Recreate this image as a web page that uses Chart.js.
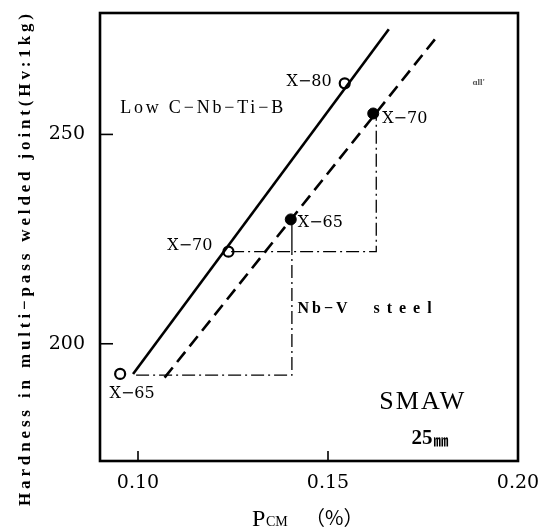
<!DOCTYPE html>
<html>
<head>
<meta charset="utf-8">
<script src="https://cdn.jsdelivr.net/npm/chart.js@4/dist/chart.umd.min.js"></script>
<style>
  html, body { margin: 0; padding: 0; background: #fff; }
  #wrap { width: 551px; height: 530px; position: relative; }
</style>
</head>
<body>
<div id="wrap"><canvas id="chart"></canvas></div>
<script>
// tick labels
const xTicks = [0.10, 0.15, 0.20];
const yTicks = [200, 250];

// Low C-Nb-Ti-B steel (open circles) and its fitted line
const openX = [0.0953, 0.1238, 0.1544];
const openY = [192.8, 222.0, 262.2];
const openNames = ["X\u221265", "X\u221270", "X\u221280"];
const solidLineX = [0.0987, 0.1660];
const solidLineY = [192.8, 275.1];

// Nb-V steel (filled circles) and its fitted line
const filledX = [0.1402, 0.1619];
const filledY = [229.7, 255.0];
const filledNames = ["X\u221265", "X\u221270"];
const dashedLineX = [0.1070, 0.1790];
const dashedLineY = [191.9, 273.7];

// dash-dot guide lines (same hardness, shifted P_CM)
const guideAX = [0.0995, 0.1405, 0.1405];
const guideAY = [192.5, 192.5, 222.0];
const guideBX = [0.1245, 0.1627, 0.1627];
const guideBY = [222.0, 222.0, 255.0];
const guideCX = [0.1405, 0.1405];
const guideCY = [222.0, 229.7];

const pts = (xs, ys) => xs.map((x, i) => ({ x: x, y: ys[i] }));

const SERIF = "'Liberation Serif', 'DejaVu Serif', serif";
const NUMF = "'DejaVu Serif', serif";

// draw text stretched with letter spacing to a given width
const drawFit = (ctx, text, x, y, width, font, align) => {
    ctx.font = font;
    ctx.letterSpacing = "0px";
    const w = ctx.measureText(text).width;
    const sp = Math.max(0, (width - w) / Math.max(1, text.length - 1));
    ctx.letterSpacing = sp + "px";
    let left = x;
    if (align === "center") left = x - width / 2;
    if (align === "right") left = x - width;
    ctx.textAlign = "left";
    ctx.fillText(text, left, y);
    ctx.letterSpacing = "0px";
};

const framePlugin = {
    id: "frame",
    beforeDatasetsDraw(chart) {
        const { ctx, chartArea: a, scales } = chart;
        ctx.save();
        ctx.strokeStyle = "#000";
        ctx.lineWidth = 2.6;
        ctx.strokeRect(a.left, a.top, a.right - a.left, a.bottom - a.top);
        ctx.lineWidth = 1.6;
        // inward tick marks
        [0.10, 0.15].forEach((v) => {
            const px = scales.x.getPixelForValue(v);
            ctx.beginPath();
            ctx.moveTo(px, a.bottom);
            ctx.lineTo(px, a.bottom - 10);
            ctx.stroke();
        });
        yTicks.forEach((v) => {
            const py = scales.y.getPixelForValue(v);
            ctx.beginPath();
            ctx.moveTo(a.left, py);
            ctx.lineTo(a.left + 13, py);
            ctx.stroke();
        });
        ctx.restore();
    },
};

const textPlugin = {
    id: "texts",
    afterDatasetsDraw(chart) {
        const { ctx, scales } = chart;
        const X = (v) => scales.x.getPixelForValue(v);
        const Y = (v) => scales.y.getPixelForValue(v);
        ctx.save();
        ctx.fillStyle = "#000";
        ctx.textBaseline = "middle";

        // point labels
        ctx.font = "16px " + NUMF;
        ctx.textAlign = "right";
        ctx.fillText(openNames[2], X(openX[2]) - 13, Y(openY[2]) - 1);
        ctx.fillText(openNames[1], X(openX[1]) - 16, Y(openY[1]) - 6);
        ctx.textAlign = "center";
        ctx.fillText(openNames[0], X(openX[0]) + 12, Y(openY[0]) + 20);
        ctx.textAlign = "left";
        ctx.fillText(filledNames[1], X(filledX[1]) + 9, Y(filledY[1]) + 5);
        ctx.fillText(filledNames[0], X(filledX[0]) + 7, Y(filledY[0]) + 3);

        // annotations
        drawFit(ctx, "Low C\u2212Nb\u2212Ti\u2212B", X(0.0953), Y(256.2), 163, "18px " + SERIF, "left");
        drawFit(ctx, "Nb\u2212V", X(0.1420), Y(208.3), 50, "bold 16px " + SERIF, "left");
        drawFit(ctx, "steel", X(0.1620), Y(208.3), 58, "bold 16px " + SERIF, "left");
        drawFit(ctx, "SMAW", X(0.1635), Y(186.0), 85, "26px " + SERIF, "left");
        ctx.font = "bold 21px " + SERIF;
        ctx.textAlign = "left";
        ctx.fillText("25", X(0.1720), Y(177.3));
        ctx.font = "bold 15px 'Noto Sans CJK JP', sans-serif";
        ctx.fillText("\u339C", X(0.1720) + 22, Y(177.3) + 1);
        ctx.fillStyle = "#555";
        ctx.font = "bold 9px " + SERIF;
        ctx.fillText("\u0251ll'", X(0.1880), Y(262.4));
        ctx.fillStyle = "#000";

        // x axis title
        ctx.textBaseline = "alphabetic";
        ctx.font = "24px " + SERIF;
        ctx.fillText("P", 252, 526);
        ctx.font = "14px " + SERIF;
        ctx.fillText("CM", 266, 526);
        ctx.font = "20px 'Noto Sans CJK JP', sans-serif";
        ctx.fillText("\uFF08%\uFF09", 305, 525);

        // y axis title
        ctx.translate(26, 260);
        ctx.rotate(-Math.PI / 2);
        ctx.textBaseline = "middle";
        drawFit(ctx, "Hardness in multi\u2212pass welded joint(Hv:1kg)", 0, 0, 492, "bold 17px " + SERIF, "center");
        ctx.restore();
    },
};

const guide = (data) => ({
    data: data,
    showLine: true,
    borderColor: "#000",
    borderWidth: 1.3,
    borderDash: [13, 4, 2, 4],
    pointRadius: 0,
    fill: false,
});

new Chart("chart", {
    type: "scatter",
    data: {
        datasets: [
            guide(pts(guideAX, guideAY)),
            guide(pts(guideBX, guideBY)),
            {
                data: pts(guideCX, guideCY),
                showLine: true,
                borderColor: "#000",
                borderWidth: 1.3,
                pointRadius: 0,
            },
            {
                label: "Low C-Nb-Ti-B",
                data: pts(solidLineX, solidLineY),
                showLine: true,
                borderColor: "#000",
                borderWidth: 2.6,
                pointRadius: 0,
            },
            {
                label: "Nb-V steel",
                data: pts(dashedLineX, dashedLineY),
                showLine: true,
                borderColor: "#000",
                borderWidth: 2.6,
                borderDash: [13, 7],
                pointRadius: 0,
            },
            {
                data: pts(openX, openY),
                pointStyle: "circle",
                pointRadius: 5,
                pointBackgroundColor: "#fff",
                pointBorderColor: "#000",
                pointBorderWidth: 2.2,
            },
            {
                data: pts(filledX, filledY),
                pointStyle: "circle",
                pointRadius: 5.5,
                pointBackgroundColor: "#000",
                pointBorderColor: "#000",
                pointBorderWidth: 1,
            },
        ],
    },
    options: {
        responsive: true,
        maintainAspectRatio: false,
        animation: false,
        layout: { padding: { top: 13, right: 33, left: 0, bottom: 0 } },
        scales: {
            x: {
                type: "linear",
                min: 0.09,
                max: 0.20,
                afterBuildTicks: (s) => { s.ticks = xTicks.map((v) => ({ value: v })); },
                afterFit: (s) => {
                    s.height = 69;
                    s.paddingLeft = 0;
                    s.paddingRight = 0;
                },
                grid: { display: false, drawTicks: false },
                border: { display: false },
                ticks: {
                    color: "#000",
                    padding: 11,
                    autoSkip: false,
                    maxRotation: 0,
                    font: { family: "DejaVu Serif", size: 19 },
                    callback: (v) => v.toFixed(2),
                },
            },
            y: {
                type: "linear",
                min: 172,
                max: 279,
                afterBuildTicks: (s) => { s.ticks = yTicks.map((v) => ({ value: v })); },
                afterFit: (s) => {
                    s.width = 100;
                    s.paddingTop = 0;
                    s.paddingBottom = 0;
                },
                grid: { display: false, drawTicks: false },
                border: { display: false },
                ticks: {
                    color: "#000",
                    padding: 15,
                    font: { family: "DejaVu Serif", size: 19 },
                },
            },
        },
        plugins: {
            legend: { display: false },
            tooltip: { enabled: false },
        },
    },
    plugins: [framePlugin, textPlugin],
});
</script>
</body>
</html>
